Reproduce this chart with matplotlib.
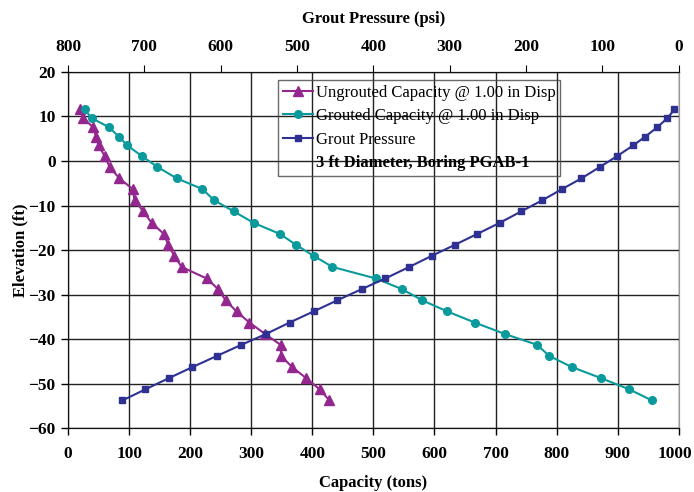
import matplotlib
matplotlib.use("Agg")
import matplotlib.pyplot as plt
from matplotlib.transforms import ScaledTranslation

# Elevations (ft) shared by all three series
elevation = [11.6, 9.6, 7.6, 5.5, 3.5, 1.1, -1.3, -3.9, -6.3, -8.8, -11.3, -13.9,
             -16.4, -18.8, -21.3, -23.8, -26.4, -28.8, -31.3, -33.8, -36.3, -38.9,
             -41.3, -43.8, -46.3, -48.8, -51.3, -53.8]

# Ungrouted capacity (tons)
ungrouted = [19, 25, 41, 46, 50, 60, 68, 84, 106, 109, 123, 137, 157, 164, 174, 186,
             227, 246, 258, 276, 297, 323, 348, 349, 367, 390, 412, 428]

# Grouted capacity (tons)
grouted = [27, 39, 67, 83, 97, 121, 146, 178, 220, 239, 271, 304, 347, 373, 402, 433,
           504, 547, 580, 621, 666, 716, 768, 788, 825, 873, 919, 956]

# Grout pressure (psi)
pressure = [5.6, 15, 28, 43.6, 59.7, 80.7, 102.9, 127.4, 152.7, 178.5, 206, 234.6,
            264, 292.8, 323.4, 353, 384.4, 415.4, 447.3, 478.3, 509.8, 541, 573, 605,
            637, 668, 698.6, 728.8]

cap_ticks = [0, 100, 200, 300, 400, 500, 600, 700, 800, 900, 1000]
psi_ticks = [800, 700, 600, 500, 400, 300, 200, 100, 0]
elev_ticks = [20, 10, 0, -10, -20, -30, -40, -50, -60]

PURPLE = "#93278f"
TEAL = "#0a9a9c"
BLUE = "#2e3192"

plt.rcParams["font.family"] = ["Liberation Serif", "DejaVu Serif"]

fig = plt.figure(figsize=(6.94, 4.92), dpi=100)
ax = fig.add_axes([0.098, 0.130, 0.880, 0.7237])

l1, = ax.plot(ungrouted, elevation, color=PURPLE, marker="^", markersize=6.5,
              linewidth=1.5, label="Ungrouted Capacity @ 1.00 in Disp", zorder=3)
l2, = ax.plot(grouted, elevation, color=TEAL, marker="o", markersize=5.5,
              linewidth=1.5, label="Grouted Capacity @ 1.00 in Disp", zorder=3)

ax.set_xlim(0, 1000)
ax.set_ylim(-60, 20)
ax.set_xticks(cap_ticks)
ax.set_yticks(elev_ticks)
ax.grid(True, color="#222222", linewidth=1)
ax.set_axisbelow(True)
ax.tick_params(axis="both", direction="out", length=5, labelsize=12.5, width=1)
for lab in ax.get_xticklabels() + ax.get_yticklabels():
    lab.set_fontweight("bold")
ax.set_xlabel("Capacity (tons)", fontsize=12, fontweight="bold", labelpad=9)
ax.set_ylabel("Elevation (ft)", fontsize=12, fontweight="bold", labelpad=0)
ax.tick_params(axis="x", pad=8)
ax.tick_params(axis="y", pad=4)

# keep the last capacity label inside the canvas
last = ax.get_xticklabels()[-1]
last.set_transform(last.get_transform() + ScaledTranslation(-4 / 100, 0, fig.dpi_scale_trans))

ax2 = ax.twiny()
l3, = ax2.plot(pressure, elevation, color=BLUE, marker="s", markersize=5,
               linewidth=1.5, label="Grout Pressure", zorder=3)
ax2.set_xlim(800, 0)
ax2.set_xticks(psi_ticks)
ax2.tick_params(axis="x", direction="out", length=5, labelsize=12.5, pad=7.5)
for lab in ax2.get_xticklabels():
    lab.set_fontweight("bold")
ax2.set_xlabel("Grout Pressure (psi)", fontsize=12, fontweight="bold", labelpad=11)

for a in (ax, ax2):
    for side in ("left", "bottom", "top"):
        a.spines[side].set_color("#111111")
    a.spines["right"].set_color("#999999")

# extra legend row for the bold note
note, = ax2.plot([], [], linestyle="none", label="3 ft Diameter, Boring PGAB-1")
leg = ax2.legend(handles=[l1, l2, l3, note], loc="upper left",
                 bbox_to_anchor=(0.344, 0.978), fontsize=12, frameon=True,
                 fancybox=False, edgecolor="#444444",
                 handlelength=1.8, handletextpad=0.15, borderpad=0.3,
                 labelspacing=0.45, borderaxespad=0)
leg.get_frame().set_facecolor("none")
leg.get_frame().set_linewidth(1)
leg.get_texts()[3].set_fontweight("bold")

fig.savefig("out.png", dpi=100)
